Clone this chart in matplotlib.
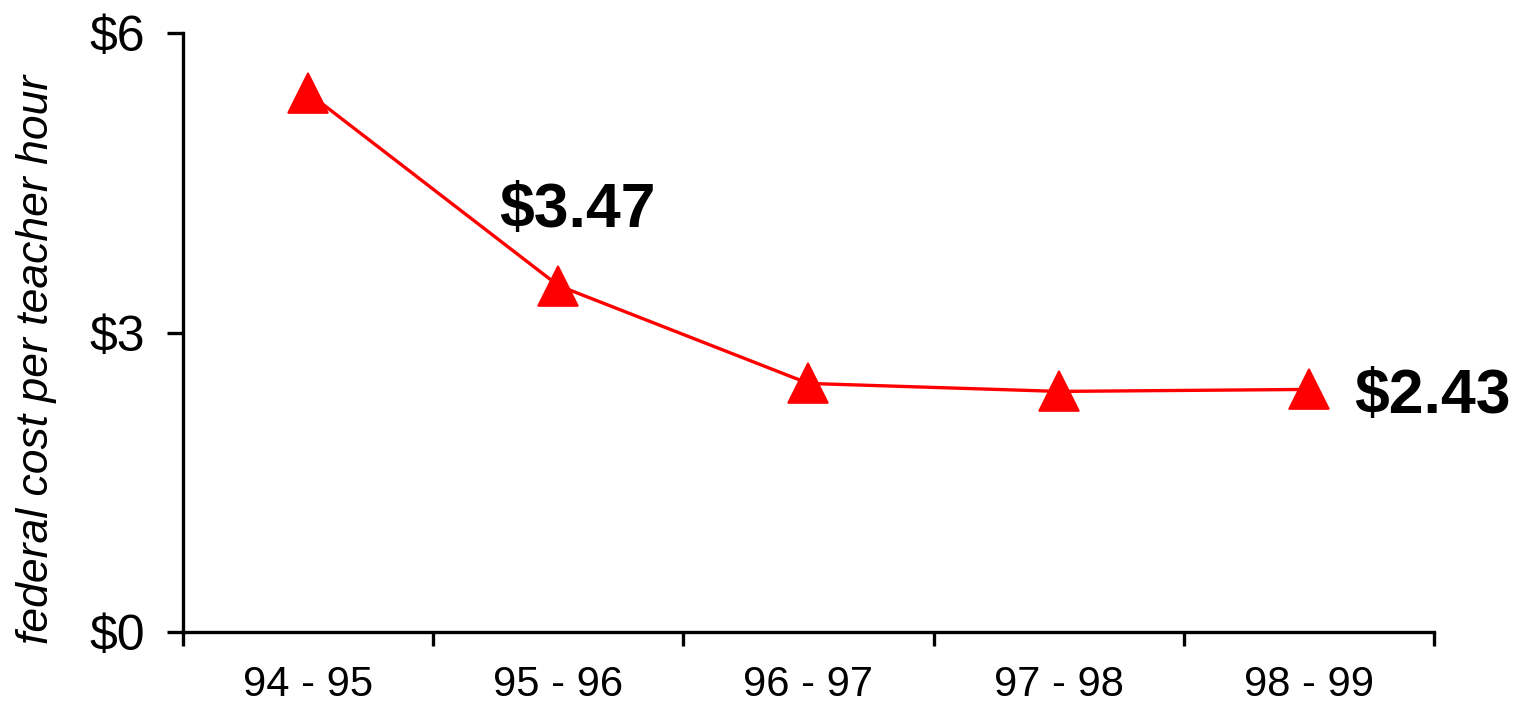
import matplotlib
matplotlib.use("Agg")
from matplotlib import pyplot as plt
import numpy as np

plt.rcParams['font.family'] = ['Liberation Sans', 'DejaVu Sans']

years = ['94 - 95', '95 - 96', '96 - 97', '97 - 98', '98 - 99']
cost = [5.40, 3.47, 2.49, 2.41, 2.43]
yticks = [0, 3, 6]
ytick_labels = ['$0', '$3', '$6']

fig = plt.figure(figsize=(15.2, 7.14), dpi=100)
ax = fig.add_axes([0.1204, 0.1148, 0.823, 0.839])

x = np.arange(len(years))
ax.plot(x, cost, color='#ff0000', lw=2.4, marker='^', markersize=29,
        markeredgewidth=1.2, markeredgecolor='#ff0000', markerfacecolor='#ff0000',
        clip_on=False, zorder=3)

ax.set_xlim(-0.5, len(years) - 0.5)
ax.set_ylim(0, 6)

# boundaries get the tick marks, centres get the labels
ax.set_xticks(np.arange(len(years) + 1) - 0.5)
ax.set_xticklabels([])
ax.set_xticks(x, minor=True)
ax.set_xticklabels(years, minor=True, fontsize=30)
ax.tick_params(axis='x', which='major', length=10, width=2.4, direction='out')
ax.tick_params(axis='x', which='minor', length=0, pad=24)

ax.set_yticks(yticks)
ax.set_yticklabels(ytick_labels, fontsize=36)
ax.tick_params(axis='y', length=11.5, width=2.4, direction='out', pad=16)

for s in ['top', 'right']:
    ax.spines[s].set_visible(False)
for s in ['left', 'bottom']:
    ax.spines[s].set_linewidth(2.4)

ax.text(-0.117, 0.455, 'federal cost per teacher hour', transform=ax.transAxes,
        rotation=90, ha='center', va='center', fontsize=32, style='italic')

ax.annotate('$%.2f' % cost[1], (x[1], cost[1]), xytext=(14, 54),
            textcoords='offset points', ha='center', va='center',
            fontsize=45, fontweight='bold')
ax.annotate('$%.2f' % cost[4], (x[4], cost[4]), xytext=(89, -5),
            textcoords='offset points', ha='center', va='center',
            fontsize=45, fontweight='bold', annotation_clip=False)

fig.savefig('out.png', dpi=100)
